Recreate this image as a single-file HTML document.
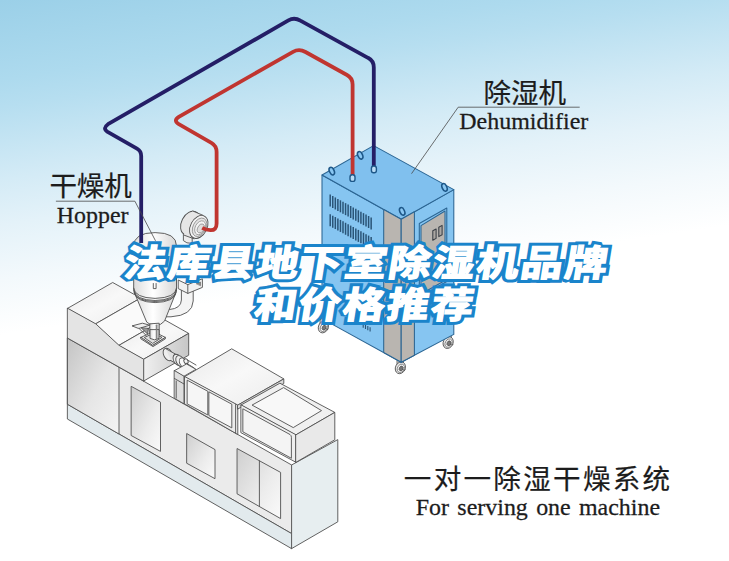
<!DOCTYPE html>
<html><head><meta charset="utf-8"><title>diagram</title>
<style>html,body{margin:0;padding:0;background:#fff;}body{width:729px;height:561px;overflow:hidden;font-family:"Liberation Sans",sans-serif;}svg{display:block;}</style>
</head><body>
<svg width="729" height="561" viewBox="0 0 729 561">
<defs>
<linearGradient id="bgv" gradientUnits="userSpaceOnUse" x1="0" y1="0" x2="49.9" y2="332.5"><stop offset="0.000" stop-color="#9bd0e8"/><stop offset="0.235" stop-color="#addaee"/><stop offset="0.315" stop-color="#b6def0"/><stop offset="0.529" stop-color="#d4ebf6"/><stop offset="0.662" stop-color="#e4f2f9"/><stop offset="0.824" stop-color="#f3f9fc"/><stop offset="0.985" stop-color="#ffffff"/></linearGradient>

<linearGradient id="gpanel" x1="0" y1="0" x2="1" y2="1"><stop offset="0" stop-color="#c4c4c4"/><stop offset="0.55" stop-color="#e6e6e6"/><stop offset="1" stop-color="#f4f4f4"/></linearGradient>
<linearGradient id="gwin" x1="0" y1="0" x2="1" y2="1"><stop offset="0" stop-color="#cfcfcf"/><stop offset="0.6" stop-color="#ececec"/><stop offset="1" stop-color="#fafafa"/></linearGradient>
<linearGradient id="gside" x1="0" y1="0" x2="1" y2="0"><stop offset="0" stop-color="#f0f0f0"/><stop offset="1" stop-color="#c6c6c6"/></linearGradient>
<linearGradient id="gtop" x1="0" y1="0" x2="1" y2="1"><stop offset="0" stop-color="#e9e9e9"/><stop offset="0.5" stop-color="#f8f8f8"/><stop offset="1" stop-color="#ececec"/></linearGradient>
<linearGradient id="ghop" x1="0" y1="0" x2="1" y2="0"><stop offset="0" stop-color="#dcdcdc"/><stop offset="0.45" stop-color="#ffffff"/><stop offset="1" stop-color="#d6d6d6"/></linearGradient>
</defs>
<rect width="729" height="561" fill="url(#bgv)"/>
<g stroke="#505050" stroke-width="0.9" stroke-linejoin="round" stroke-linecap="round" fill="none">
<polygon points="291.6,464.97 337.8,439.6 337.8,521.8 291.6,548.61" fill="#e7eef0" />
<polygon points="67.7,338.2 291.6,464.97 291.6,533.59 67.7,404.4" fill="#ebebeb" />
<polygon points="67.7,404.4 291.6,533.59 291.6,548.61 67.7,419.2" fill="#e2eaed" />
<polygon points="67.7,338.2 119,367.25 119,434 67.7,404.4" fill="url(#gpanel)" />
<polygon points="131.5,386.5 160.5,402.2 160.5,451.4 131.5,435.7" fill="url(#gwin)" />
<polygon points="187,433.7 215,449.6 215,478.7 187,463.4" fill="url(#gwin)" />
<polygon points="237.4,448.7 280.6,472.4 280.6,518.6 237.4,494" fill="url(#gwin)" />
<polyline points="259.4,460.8 259.4,506.4" />
<polygon points="67.7,308.3 112.7,282.5 140.7,298 95.7,323.8" fill="url(#gtop)" />
<polygon points="95.7,323.8 140.7,298 164,319.5 119,345.3" fill="#fafafa" />
<polygon points="119,345.3 164,319.5 188.7,333.4 143.7,359.2" fill="url(#gtop)" />
<polygon points="143.7,359.2 188.7,333.4 188.7,355.2 143.7,381" fill="url(#gside)" />
<polygon points="67.7,308.3 95.7,323.8 119,345.3 143.7,359.2 143.7,381 67.7,338.2" fill="#e4e4e4" />
<g fill="#eeeeee">
<ellipse cx="168" cy="354.5" rx="4.3" ry="6.6" transform="rotate(-28 168 354.5)"/>
<path d="M165.6 348.6 L175.5 354.2 L181.2 364 L171 360.6Z" fill="#e2e2e2" stroke="none"/>
<polyline points="165.8,348.7 175.3,354" />
<polyline points="170.6,360.5 180,365.6" />
<ellipse cx="177.5" cy="359.8" rx="3.9" ry="6" transform="rotate(-28 177.5 359.8)"/>
<ellipse cx="180.2" cy="361.2" rx="3.9" ry="6" transform="rotate(-28 180.2 361.2)"/>
<ellipse cx="183.2" cy="362.8" rx="3.4" ry="5.2" transform="rotate(-28 183.2 362.8)" fill="#fafafa"/>
<ellipse cx="186" cy="361.3" rx="2" ry="2.6" transform="rotate(-28 186 361.3)" fill="#f4f4f4"/>
<polyline points="187.5,360 196,365" />
<polyline points="186.5,363.3 194,367.8" />
</g>
<polygon points="174.5,370.6 186.5,364 196,369.3 184,376.2" fill="#f3f3f3" />
<polygon points="174.5,370.6 184,376.2 184,403.8 174.5,398.4" fill="#dedede" />
<polyline points="174.5,378.5 184,384" />
<polyline points="176.2,381 176.2,398.2" />
<polygon points="184.8,376.6 231.7,348.8 283.8,378.9 237.8,405.1" fill="url(#gtop)" />
<polygon points="184.8,376.6 237.8,405.1 237.8,434.5 184.8,404" fill="#ececec" />
<polygon points="187.5,380.35 207.8,391.27 207.8,414.97 187.5,404.05" fill="#f6f6f6" />
<polygon points="209.2,392.02 231.8,404.17 231.8,427.87 209.2,415.72" fill="#f6f6f6" />
<polyline points="235.6,404.52 235.6,432.92" />
<polygon points="237.8,405.1 283.8,378.9 283.8,383.5 240.5,407.5 237.8,409" fill="#d9d9d9" />
<polygon points="241.2,404.9 279.9,383.2 334.8,412.4 296,434.8" fill="#f0f0f0" />
<polygon points="252.4,404.9 283.6,387.6 321.5,410.6 293.6,427.4" fill="#f8f8f8" />
<polygon points="241.2,404.9 296,434.8 296,462.3 241.2,432.8" fill="#eeeeee" />
<polygon points="296,434.8 334.8,412.4 334.8,439.8 296,462.3" fill="#e9e9e9" />
<path d="M243.2 408.99 L290 434.53 Q291.4 435.49 291.4 437.29 L291.4 458.29 L243.2 431.99 Z" fill="#f4f4f4"/>
<path d="M181.4 290 L181.4 300 Q181 308.5 169.5 309.5 L166 309.6 L166 316.8 L171 316.8 Q192.6 315.5 193.2 301 L193.2 290Z" fill="#f4f4f4"/>
<path d="M178.6 280.2 L187.8 284.6 L202.4 278.8 L202.4 287.4 L187.8 293.4 L178.6 288.8Z" fill="#f1f1f1"/>
<polyline points="187.8,284.6 187.8,293.4" />
<path d="M196.5 283.6 L200.5 282 L200.5 285.4Z" fill="#888" stroke-width="0.5"/>
<path d="M133.7 246 Q133.7 232.6 155.1 232.6 Q176.5 232.6 176.5 246 L176.5 291 Q176 301 155.1 301.5 Q134.2 301 133.7 291Z" fill="url(#ghop)"/>
<path d="M133.7 288.2 Q134.4 297.8 155.1 298.4 Q175.8 297.8 176.5 288.2" />
<path d="M134.3 292.6 Q136 302 155.1 302.6 Q174.2 302 175.9 292.6 L164.6 321 Q161 325.4 155.6 325.4 Q150 325.4 147 322.4Z" fill="url(#ghop)"/>
<path d="M133.9 290.4 Q135 300 155.1 300.5 Q175.2 300 176.3 290.4" />
<polyline points="153.3,283.5 153.3,288.6 156.1,288.6 156.1,283.5" />
<path d="M149.8 324.2 L149.8 338 Q154.5 341 159.2 338 L159.2 323.6Z" fill="url(#ghop)"/>
<path d="M156.6 325.2 L156.6 339.2" stroke="#888" stroke-width="1.6"/>
<polygon points="140.8,337.4 153.6,331.6 165.4,337.4 153,345.2" fill="#f2f2f2" />
<polygon points="140.8,337.4 140.8,338.8 153,346.6 165.4,338.8 165.4,337.4 153,345.2" fill="#d8d8d8" />
<polygon points="144.6,337.4 153.6,333.2 162,337.4 153,343.2" fill="#e0e0e0" />
<path d="M150 330 L150 338.4 Q154.5 341.2 159 338.4 L159 330Z" fill="url(#ghop)"/>
<path d="M156.6 330 L156.6 339.6" stroke="#888" stroke-width="1.6"/>
<polygon points="132.4,325.8 142.4,323.2 149.8,325.2 139,328.4" fill="#f0f0f0" />
<path d="M141.4 328 L147.6 334 L148.4 328.8Z" fill="#9a9a9a"/>
<polyline points="139,328.4 146,335.2" />
<path d="M183.4 228 L183.4 240.6 Q186 243.6 192.2 243.4 L192.2 234Z" fill="#ececec"/>
<ellipse cx="190.2" cy="223.2" rx="8.7" ry="12.6" transform="rotate(27 190.2 223.2)" fill="#e6e6e6"/>
<path d="M192.6 210.9 L203.6 215.6 L193.6 238.6 L183.8 235Z" fill="#e6e6e6" stroke="none"/>
<polyline points="192.8,211 203.2,215.4" />
<polyline points="184.2,235.2 194,238.8" />
<ellipse cx="198.8" cy="226.9" rx="8.3" ry="12.2" transform="rotate(27 198.8 226.9)" fill="#f3f3f3"/>
<ellipse cx="199.6" cy="227.3" rx="6.6" ry="9.8" transform="rotate(27 199.6 227.3)" fill="#e4e4e4" stroke="#808080" stroke-width="0.7"/>
<ellipse cx="200.2" cy="227.8" rx="5" ry="7.4" transform="rotate(27 200.2 227.8)" fill="#f4f4f4" stroke="#8a8a8a" stroke-width="0.7"/>
<ellipse cx="200.9" cy="228.4" rx="3.2" ry="4.8" transform="rotate(27 200.9 228.4)" fill="#dedede" stroke="#8a8a8a" stroke-width="0.7"/>
</g>
<g stroke="#2b6593" stroke-width="1.05" stroke-linejoin="round" stroke-linecap="round" fill="none">
<g stroke="#4a4a4a" stroke-width="0.8">
<path d="M320 325.5 l0 -6 l6.5 -3 l0 6" fill="#d4d4d4"/>
<ellipse cx="323.4" cy="327" rx="4.9" ry="6.1" transform="rotate(26 323.4 327)" fill="#e9e9e9"/>
<ellipse cx="324.1" cy="327.2" rx="3.4" ry="4.4" transform="rotate(26 323.4 327)" fill="#fafafa" stroke="#777"/>
<ellipse cx="324.4" cy="327.3" rx="1.9" ry="2.5" transform="rotate(26 323.4 327)" fill="#777" stroke="#555"/></g>
<g stroke="#4a4a4a" stroke-width="0.8">
<path d="M444.8 341.1 l0 -6 l6.5 -3 l0 6" fill="#d4d4d4"/>
<ellipse cx="448.2" cy="342.6" rx="4.9" ry="6.1" transform="rotate(26 448.2 342.6)" fill="#e9e9e9"/>
<ellipse cx="448.9" cy="342.8" rx="3.4" ry="4.4" transform="rotate(26 448.2 342.6)" fill="#fafafa" stroke="#777"/>
<ellipse cx="449.2" cy="342.9" rx="1.9" ry="2.5" transform="rotate(26 448.2 342.6)" fill="#777" stroke="#555"/></g>
<g stroke="#4a4a4a" stroke-width="0.8">
<path d="M397 366.3 l0 -6 l6.5 -3 l0 6" fill="#d4d4d4"/>
<ellipse cx="400.4" cy="367.8" rx="4.9" ry="6.1" transform="rotate(26 400.4 367.8)" fill="#e9e9e9"/>
<ellipse cx="401.1" cy="368" rx="3.4" ry="4.4" transform="rotate(26 400.4 367.8)" fill="#fafafa" stroke="#777"/>
<ellipse cx="401.4" cy="368.1" rx="1.9" ry="2.5" transform="rotate(26 400.4 367.8)" fill="#777" stroke="#555"/></g>
<polygon points="322,175 401.2,219.2 401.2,362.2 322,318.6" fill="#86c5f1" />
<polygon points="401.2,219.2 453.8,189.6 453.8,334.4 401.2,362.2" fill="#86c5f1" />
<polygon points="322,175 373.6,145.6 453.8,189.6 401.2,219.2" fill="#80c0ee" />
<polygon points="383.7,209.43 401.2,219.2 401.2,362.2 383.7,352.57" fill="#b9b5b0" />
<polygon points="401.2,219.2 414.4,211.77 414.4,355.22 401.2,362.2" fill="#b9b5b0" />
<polygon points="419.3,223.51 446.8,208.04 446.8,281.54 419.3,297.01" fill="#86c5f1" />
<polygon points="421,225.66 445,210.95 445,280.55 421,294.06" fill="#b9b5b0" />
<polygon points="432.8,230.8 436.1,229 436.1,238.4 432.8,240.2" fill="#aba7a2" stroke="#3a3f46"/>
<polygon points="438.8,227.2 442.1,225.4 442.1,234.8 438.8,236.6" fill="#aba7a2" stroke="#3a3f46"/>
<g stroke="#2a5477" stroke-width="1.5" stroke-linecap="butt">
<line x1="330.2" y1="194.6" x2="330.2" y2="206.6"/>
<line x1="332.76" y1="196.03" x2="332.76" y2="208.03"/>
<line x1="335.32" y1="197.45" x2="335.32" y2="209.45"/>
<line x1="337.88" y1="198.88" x2="337.88" y2="210.88"/>
<line x1="340.44" y1="200.3" x2="340.44" y2="212.3"/>
<line x1="343" y1="201.73" x2="343" y2="213.73"/>
<line x1="345.56" y1="203.16" x2="345.56" y2="215.16"/>
<line x1="348.12" y1="204.58" x2="348.12" y2="216.58"/>
<line x1="350.68" y1="206.01" x2="350.68" y2="218.01"/>
<line x1="353.24" y1="207.43" x2="353.24" y2="219.43"/>
<line x1="355.8" y1="208.86" x2="355.8" y2="220.86"/>
<line x1="358.36" y1="210.29" x2="358.36" y2="222.29"/>
<line x1="360.92" y1="211.71" x2="360.92" y2="223.71"/>
<line x1="363.48" y1="213.14" x2="363.48" y2="225.14"/>
<line x1="366.04" y1="214.56" x2="366.04" y2="226.56"/>
<line x1="368.6" y1="215.99" x2="368.6" y2="227.99"/>
<line x1="371.16" y1="217.41" x2="371.16" y2="229.41"/>
<line x1="330.2" y1="214.2" x2="330.2" y2="226.2"/>
<line x1="332.76" y1="215.63" x2="332.76" y2="227.63"/>
<line x1="335.32" y1="217.05" x2="335.32" y2="229.05"/>
<line x1="337.88" y1="218.48" x2="337.88" y2="230.48"/>
<line x1="340.44" y1="219.9" x2="340.44" y2="231.9"/>
<line x1="343" y1="221.33" x2="343" y2="233.33"/>
<line x1="345.56" y1="222.76" x2="345.56" y2="234.76"/>
<line x1="348.12" y1="224.18" x2="348.12" y2="236.18"/>
<line x1="350.68" y1="225.61" x2="350.68" y2="237.61"/>
<line x1="353.24" y1="227.03" x2="353.24" y2="239.03"/>
<line x1="355.8" y1="228.46" x2="355.8" y2="240.46"/>
<line x1="358.36" y1="229.89" x2="358.36" y2="241.89"/>
<line x1="360.92" y1="231.31" x2="360.92" y2="243.31"/>
<line x1="363.48" y1="232.74" x2="363.48" y2="244.74"/>
<line x1="366.04" y1="234.16" x2="366.04" y2="246.16"/>
<line x1="368.6" y1="235.59" x2="368.6" y2="247.59"/>
<line x1="371.16" y1="237.01" x2="371.16" y2="249.01"/>
<line x1="363.2" y1="323.6" x2="363.2" y2="327.8" stroke-width="1.1"/>
<line x1="365.5" y1="324.8" x2="365.5" y2="329" stroke-width="1.1"/>
<line x1="367.8" y1="326" x2="367.8" y2="330.2" stroke-width="1.1"/>
<line x1="370.1" y1="327.2" x2="370.1" y2="331.4" stroke-width="1.1"/>
</g>
<ellipse cx="331.8" cy="171.1" rx="2.3" ry="4.0" transform="rotate(-24 331.8 171.1)" fill="#8ac7f2" stroke="#1d5788" stroke-width="1.6"/>
<ellipse cx="360.2" cy="155.3" rx="2.3" ry="4.0" transform="rotate(-24 360.2 155.3)" fill="#8ac7f2" stroke="#1d5788" stroke-width="1.6"/>
<ellipse cx="444.5" cy="187.4" rx="2.3" ry="4.0" transform="rotate(-24 444.5 187.4)" fill="#8ac7f2" stroke="#1d5788" stroke-width="1.6"/>
<ellipse cx="402.2" cy="211.4" rx="2.3" ry="4.0" transform="rotate(-24 402.2 211.4)" fill="#8ac7f2" stroke="#1d5788" stroke-width="1.6"/>
</g>
<g fill="none" stroke-width="3.8" stroke-linecap="butt" stroke-linejoin="round">
<path d="M141.2 243 L141.2 156 Q141.2 151 137 148.6 L107.6 131.8 Q102.2 128.3 108 124.2 L288.4 20.4 Q294.2 16.9 300.4 20.6 L368 57.8 Q373.8 60.8 373.8 67.4 L373.8 166.6" stroke="#241e66"/>
<path d="M352.6 175.4 L352.6 84.5 Q352.6 78 347 75 L305.5 52 Q299.2 48.4 293 51.8 L178.8 116.9 Q173 120.6 178.8 124.2 L211.4 142.8 Q216.6 145.8 216.6 152 L216.6 223.5 Q216.6 230.4 210.5 230.2 Q206 230 202.2 227.9" stroke="#c03530"/>
</g>
<g stroke="#1d5788" stroke-width="1.4">
<rect x="350" y="174.8" width="5" height="6.6" rx="2.2" fill="#b9dcf5"/>
<rect x="371.4" y="166" width="5" height="6.8" rx="2.2" fill="#b9dcf5"/>
</g>
<g stroke="#4a4a4a" stroke-width="0.8" fill="none">
<polyline points="579.7,107.2 458.2,107.2 411.5,173.7"/>
<polyline points="55.9,201.2 134.9,201.2 155.5,240.8"/>
</g>
<g fill="#1c1c1c" stroke="#1c1c1c" stroke-width="0.2" stroke-linejoin="round" font-family="'Liberation Sans', 'Noto Sans CJK SC', sans-serif" font-size="27.6">
<text x="483.6 511 538.4" y="102.8">除湿机</text>
<text x="49.4 76.8 104.2" y="195.8">干燥机</text>
<text x="403.8 433.65 463.5 493.35 523.2 553.05 582.9 612.75 642.6" y="488.5">一对一除湿干燥系统</text>
</g>
<g font-family="Liberation Serif, serif" fill="#1c1c1c" stroke="#1c1c1c" stroke-width="0.25" font-size="22.6">
<text transform="translate(459.3 129.2) scale(1.06 1)">Dehumidifier</text>
<text transform="translate(56.8 222.8) scale(1.06 1)">Hopper</text>
<text transform="translate(415.8 515) scale(1.06 1)" word-spacing="2.2">For serving one machine</text>
</g>
<g fill="#1a84cb" stroke="#1a84cb" stroke-width="8.6" stroke-linejoin="miter" stroke-miterlimit="1.5" font-family="'Liberation Sans', 'Noto Sans CJK SC', sans-serif" font-weight="bold" font-size="42" letter-spacing="2.12">
<text transform="matrix(1 0 -0.1386 0.8667 122.4 276.4)">法库县地下室除湿机品牌</text>
<text transform="matrix(1 0 -0.1386 0.8667 253 318.4)">和价格推荐</text>
</g>
<g fill="#ffffff" stroke="#ffffff" stroke-width="1.7" stroke-linejoin="miter" stroke-miterlimit="1.5" font-family="'Liberation Sans', 'Noto Sans CJK SC', sans-serif" font-weight="bold" font-size="42" letter-spacing="2.12">
<text transform="matrix(1 0 -0.1386 0.8667 122.4 276.4)">法库县地下室除湿机品牌</text>
<text transform="matrix(1 0 -0.1386 0.8667 253 318.4)">和价格推荐</text>
</g>
</svg>
</body></html>
